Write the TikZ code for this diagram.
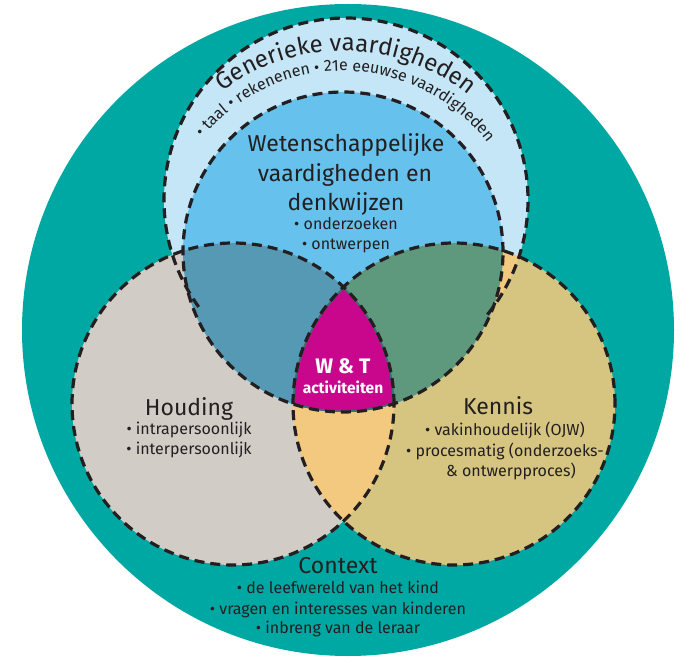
\documentclass[tikz,border=0pt]{standalone}
\usepackage{fontspec}
\setmainfont{Fira Sans}
\usetikzlibrary{decorations.text}

\definecolor{tealbg}{HTML}{00A8A3}
\definecolor{genblue}{HTML}{C4E6F7}
\definecolor{wetblue}{HTML}{66C1EC}
\definecolor{houdgray}{HTML}{D1CCC6}
\definecolor{kennyellow}{HTML}{D5C580}
\definecolor{lensorange}{HTML}{F2C97F}
\definecolor{bluegray}{HTML}{5599B5}
\definecolor{bluegreen}{HTML}{5E997E}
\definecolor{wtmagenta}{HTML}{C9078C}
\definecolor{wtedge}{HTML}{2F7470}
\definecolor{lineblack}{HTML}{231F20}

\tikzset{
  venn/.style={draw=lineblack, line width=3.2pt, dash pattern=on 10pt off 6pt},
  head/.style={anchor=base, text=lineblack, font=\fontsize{23}{23}\selectfont},
  item/.style={anchor=base, text=lineblack, font=\fontsize{16}{16}\selectfont},
  wt/.style={anchor=base, text=white, font=\bfseries\fontsize{21}{21}\selectfont}
}

\begin{document}
\begin{tikzpicture}[x=1pt, y=1pt]
    \useasboundingbox (0,0) rectangle (699,-663);

    % draw outer circle
    \fill[tealbg] (348,-330) circle (326);

    % draw filled circles
    \fill[genblue] (346,-200) circle (182);
    \fill[houdgray] (233,-404) circle (161);
    \fill[kennyellow] (454,-404) circle (161);
    \begin{scope}
        \clip (454,-404) circle (161);
        \fill[lensorange] (233,-404) circle (161);
        \fill[lensorange] (346,-200) circle (182);
    \end{scope}
    \fill[wetblue] (343,-252) circle (160);
    \begin{scope}
        \clip (343,-252) circle (160);
        \fill[bluegray] (233,-404) circle (161);
        \fill[bluegreen] (454,-404) circle (161);
    \end{scope}

    % draw middle part
    \begin{scope}
        \clip (343,-252) circle (160);
        \clip (233,-404) circle (161);
        \clip (454,-404) circle (161);
        \fill[wtmagenta] (0,0) rectangle (699,-663);
        \draw[wtedge, line width=3.2pt] (343,-252) circle (160) (233,-404) circle (161) (454,-404) circle (161);
    \end{scope}

    % draw dashed lines
    \draw[venn] (346,-200) ++(-39:182) arc[start angle=-39, end angle=216, radius=182];
    \draw[venn] (343,-252) circle (160);
    \draw[venn] (233,-404) circle (161);
    \draw[venn] (454,-404) circle (161);

    % draw curved text
    \path[decorate, decoration={text along path, text align=center,
        text={|\color{lineblack}\fontsize{24}{24}\selectfont|Generieke vaardigheden}}]
        (343,-252) ++(140:201) arc[start angle=140, end angle=38, radius=201];
    \path[decorate, decoration={text along path, text align=center,
        text={|\color{lineblack}\fontsize{16}{16}\selectfont|• taal • rekenenen • 21e eeuwse vaardigheden}}]
        (343,-252) ++(160:181) arc[start angle=160, end angle=18, radius=181];

    \node[head] (wet1) at (346,-152) {Wetenschappelijke};
    \node[head] (wet2) at (345,-182) {vaardigheden en};
    \node[head] (wet3) at (346,-211) {denkwijzen};
    \node[item] (wet4) at (346,-230) {• onderzoeken};
    \node[item] (wet5) at (346,-250) {• ontwerpen};

    \node[wt] (wt1) at (343,-373) {W \& T};
    \node[wt, font=\bfseries\fontsize{15.5}{15.5}\selectfont] (wt2) at (343,-393) {activiteiten};

    \node[head] (houd1) at (189,-415) {Houding};
    \node[item] (houd2) at (189,-434) {• intrapersoonlijk};
    \node[item] (houd3) at (189,-454) {• interpersoonlijk};

    \node[head] (kenn1) at (498,-414) {Kennis};
    \node[item] (kenn2) at (505,-435) {• vakinhoudelijk (OJW)};
    \node[item] (kenn3) at (505,-456) {• procesmatig (onderzoeks-};
    \node[item] (kenn4) at (511,-476) {\& ontwerpproces)};

    \node[head] (cont1) at (338,-573) {Context};
    \node[item] (cont2) at (338,-593) {• de leefwereld van het kind};
    \node[item] (cont3) at (338,-614) {• vragen en interesses van kinderen};
    \node[item] (cont4) at (338,-633) {• inbreng van de leraar};

\end{tikzpicture}
\end{document}
